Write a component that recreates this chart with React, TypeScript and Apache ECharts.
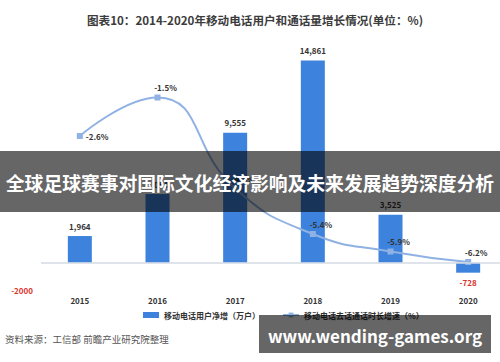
import React, { useEffect, useRef } from "react";
import * as echarts from "echarts";

const years = ["2015", "2016", "2017", "2018", "2019", "2020"];
const netAdds = [1964, 5054, 9555, 14861, 3525, -728];
const callGrowth = [-2.6, -1.5, -4.1, -5.4, -5.9, -6.2];
const barName = "移动电话用户净增（万户）";
const lineName = "移动电话去话通话时长增速（%）";
const titleText = "图表10：2014-2020年移动电话用户和通话量增长情况(单位：%)";
const sourceText = "资料来源：工信部 前瞻产业研究院整理";
const bannerText = "全球足球赛事对国际文化经济影响及未来发展趋势深度分析";
const siteText = "www.wending-games.org";

const FONT = "'Noto Sans CJK SC', 'Noto Sans', sans-serif";

export default function App() {
  const ref = useRef<HTMLDivElement>(null);
  useEffect(() => {
    if (!ref.current) return;
    const chart = echarts.init(ref.current, null, { renderer: "svg" });
    const fmt = (v: number) => v.toLocaleString("en-US");
    chart.setOption({
      animation: false,
      backgroundColor: "#ffffff",
      textStyle: { fontFamily: FONT },
      title: {
        text: titleText,
        left: 250,
        textAlign: "center",
        top: 9,
        textStyle: { fontSize: 11.6, fontWeight: "bold", color: "#3c3c3c", fontFamily: FONT },
      },
      legend: {
        bottom: 38,
        left: 138,
        itemGap: 22,
        itemWidth: 16,
        itemHeight: 6,
        textStyle: { fontSize: 8, fontWeight: "bold", color: "#333", fontFamily: FONT },
        data: [
          { name: barName, icon: "rect" },
          { name: lineName },
        ],
      },
      grid: { left: 41, top: 45, right: 0, bottom: 72, containLabel: false },
      xAxis: {
        type: "category",
        data: years,
        axisLine: { show: false },
        axisTick: { show: false },
        axisLabel: { fontSize: 8, fontWeight: "bold", color: "#333", margin: 6, fontFamily: FONT },
      },
      yAxis: [
        {
          type: "value",
          min: -2000,
          max: 16000,
          interval: 2000,
          splitLine: { show: false },
          axisLine: { show: false },
          axisTick: { show: false },
          axisLabel: {
            fontSize: 8,
            fontWeight: "bold",
            color: "#d9342b",
            margin: 8,
            formatter: (v: number) => (v === -2000 ? "-2000" : ""),
          },
        },
        {
          type: "value",
          min: -7,
          max: 0,
          show: false,
          splitLine: { show: false },
        },
      ],
      series: [
        {
          name: barName,
          type: "bar",
          data: netAdds.map((v) => ({
            value: v,
            label: {
              show: true,
              position: v < 0 ? "bottom" : "top",
              color: v < 0 ? "#d9342b" : "#333",
            },
          })),
          barWidth: 24,
          itemStyle: { color: "#3d82dd" },
          label: {
            fontSize: 8,
            fontWeight: "bold",
            distance: 6,
            formatter: (p: any) => fmt(p.value),
          },
          markLine: {
            silent: true,
            symbol: "none",
            label: { show: false },
            lineStyle: { color: "#d5dbe5", type: "solid", width: 1.5 },
            data: [{ yAxis: 0 }],
          },
          z: 2,
        },
        {
          name: lineName,
          type: "line",
          yAxisIndex: 1,
          data: callGrowth.map((v, i) => ({
            value: v,
            label: {
              show: true,
              position: i === 0 ? "right" : "top",
              offset: i === 0 ? [0, 0] : [8, 0],
            },
          })),
          smooth: 0.5,
          symbol: "rect",
          symbolSize: 6,
          lineStyle: { color: "#8fb1e3", width: 2 },
          itemStyle: { color: "#8fb1e3" },
          label: {
            fontSize: 8,
            fontWeight: "bold",
            color: "#333",
            distance: 3,
            formatter: (p: any) => p.value + "%",
          },
          z: 3,
        },
      ],
      graphic: [
        {
          type: "text",
          left: 5,
          top: 334,
          style: { text: sourceText, fontSize: 9.5, fill: "#555", fontFamily: FONT },
          z: 10,
        },
        {
          type: "rect",
          shape: { x: 0, y: 151, width: 500, height: 61 },
          style: { fill: "rgba(0,0,0,0.6)" },
          z: 100,
        },
        {
          type: "text",
          x: 250,
          y: 182,
          style: {
            text: bannerText,
            fontSize: 18.8,
            fontWeight: "bold",
            fill: "#ffffff",
            align: "center",
            verticalAlign: "middle",
            fontFamily: FONT,
          },
          z: 101,
        },
        {
          type: "rect",
          shape: { x: 259, y: 315, width: 232, height: 38 },
          style: { fill: "rgba(0,0,0,0.6)" },
          z: 100,
        },
        {
          type: "text",
          x: 375,
          y: 335,
          style: {
            text: siteText,
            fontSize: 17,
            fontWeight: "bold",
            fill: "#ffffff",
            align: "center",
            verticalAlign: "middle",
            fontFamily: FONT,
          },
          z: 101,
        },
      ],
    });
    return () => chart.dispose();
  }, []);
  return (
    <div
      ref={ref}
      style={{ position: "fixed", left: 0, top: 0, width: 507, height: 362 }}
    />
  );
}
